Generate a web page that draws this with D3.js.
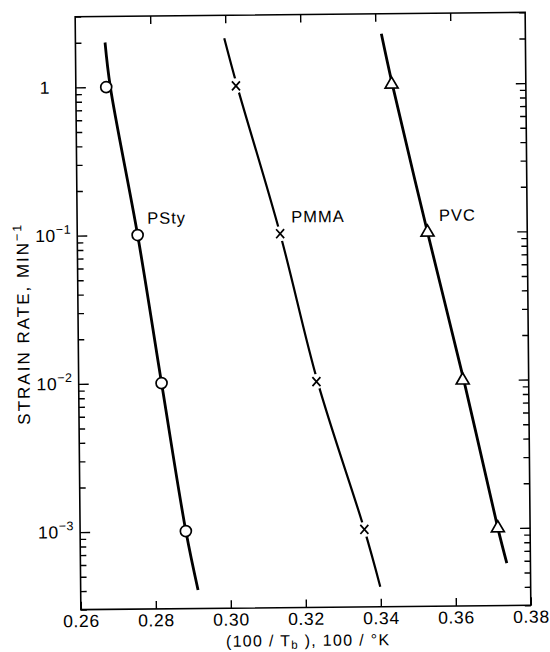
<!DOCTYPE html>
<html>
<head>
<meta charset="utf-8">
<script src="https://cdn.jsdelivr.net/npm/d3@7"></script>
<style>
  body { margin: 0; background: #fff; }
  svg { font-family: "Liberation Sans", Arial, sans-serif; }
  .axis text { font-size: 17.5px; fill: #000; letter-spacing: 0.6px; }
  .axis line { stroke: #000; stroke-width: 1.4; }
  .axis path { display: none; }
</style>
</head>
<body>
<div class="display"></div>
<script>
const WIDTH = 550;
const HEIGHT = 652;
const LEFT = 78, RIGHT = 528, TOP = 14.5, BOTTOM = 607.5;
const TILT = -0.55; // the scanned figure sits slightly askew

// axis ticks
const xTicks = [0.26, 0.28, 0.30, 0.32, 0.34, 0.36, 0.38];
const xTickLabels = ['0.26', '0.28', '0.30', '0.32', '0.34', '0.36', '0.38'];
const yMajor = [1, 0.1, 0.01, 0.001];
const yMajorBase = ['1', '10', '10', '10'];
const yMajorExp = ['', '\u22121', '\u22122', '\u22123'];

// measured points (strain rate vs 100/Tb)
const rates = [1, 0.1, 0.01, 0.001];
const pstyX = [0.2681, 0.2761, 0.2821, 0.2882];
const pmmaX = [0.3027, 0.3141, 0.3234, 0.3358];
const pvcX = [0.3442, 0.3534, 0.3624, 0.3714];

// drawn curves through the points
const pstyLineX = [0.2679, 0.2692, 0.2761, 0.2821, 0.2882, 0.2913];
const pstyLineY = [2, 1, 0.1, 0.01, 0.001, 0.0004];
const pmmaLineX = [0.2997, 0.3030, 0.3141, 0.3237, 0.3358, 0.3399];
const pmmaLineY = [2.1, 1, 0.1, 0.01, 0.001, 0.00041];
const pvcLineX = [0.3416, 0.3444, 0.3534, 0.3627, 0.3714, 0.3737];
const pvcLineY = [2.2, 1, 0.1, 0.01, 0.001, 0.00058];

// curve labels
const seriesNames = ['PSty', 'PMMA', 'PVC'];
const labelX = [0.2787, 0.3171, 0.3565];
const labelY = [0.119, 0.119, 0.119];

const svg = d3.select('.display')
  .append('svg')
  .attr('width', WIDTH)
  .attr('height', HEIGHT);

const chart = svg.append('g')
  .attr('transform', `rotate(${TILT},${(LEFT + RIGHT) / 2},311)`);

const x = d3.scaleLinear().domain([0.26, 0.38]).range([LEFT, RIGHT]);
const y = d3.scaleLog().domain([3e-4, 3]).range([BOTTOM, TOP]);

// minor ticks 2..9 in every decade
const yMinor = [];
for (let e = -4; e <= 0; e++) {
  for (let k = 2; k <= 9; k++) {
    const v = k * Math.pow(10, e);
    if (v >= 3e-4 * 0.999 && v <= 3 * 1.001) yMinor.push(v);
  }
}

// frame
chart.append('rect')
  .attr('x', LEFT).attr('y', TOP)
  .attr('width', RIGHT - LEFT).attr('height', BOTTOM - TOP)
  .attr('fill', 'none').attr('stroke', '#000').attr('stroke-width', 1.6);

// left + right ticks (pointing inward)
chart.append('g').attr('class', 'axis').attr('transform', `translate(${LEFT},0)`)
  .call(d3.axisLeft(y).tickValues(yMinor).tickSize(-6).tickFormat(''));
chart.append('g').attr('class', 'axis').attr('transform', `translate(${LEFT},0)`)
  .call(d3.axisLeft(y).tickValues(yMajor).tickSize(-10).tickFormat(''));
chart.append('g').attr('class', 'axis').attr('transform', `translate(${RIGHT},0)`)
  .call(d3.axisRight(y).tickValues(yMinor).tickSize(-6).tickFormat(''));
chart.append('g').attr('class', 'axis').attr('transform', `translate(${RIGHT},0)`)
  .call(d3.axisRight(y).tickValues(yMajor).tickSize(-10).tickFormat(''));

// bottom + top ticks
chart.append('g').attr('class', 'axis').attr('transform', `translate(0,${BOTTOM})`)
  .call(d3.axisBottom(x).tickValues(xTicks).tickSize(-8).tickPadding(5)
    .tickFormat((d, i) => xTickLabels[i]));
chart.append('g').attr('class', 'axis').attr('transform', `translate(0,${TOP})`)
  .call(d3.axisTop(x).tickValues(xTicks.slice(1, -1)).tickSize(-8).tickFormat(''));

// y labels with superscripts
const yLab = chart.append('g').attr('class', 'axis');
yMajor.forEach((v, i) => {
  const t = yLab.append('text')
    .attr('x', i === 0 ? 47 : 72)
    .attr('y', y(v) + 6)
    .attr('text-anchor', i === 0 ? 'middle' : 'end');
  t.append('tspan').text(yMajorBase[i]);
  if (yMajorExp[i]) {
    t.append('tspan').attr('dy', -8).attr('font-size', 12.5).text(yMajorExp[i]);
  }
});

// axis titles
const xt = chart.append('text')
  .attr('x', (LEFT + RIGHT) / 2 + 2).attr('y', 646)
  .attr('text-anchor', 'middle')
  .attr('font-size', 16).attr('letter-spacing', 1.3);
xt.append('tspan').text('(100 / T');
xt.append('tspan').attr('font-size', 11.5).attr('dy', 2.5).text('b');
xt.append('tspan').attr('dy', -2.5).text(' ), 100 / \u00B0K');

const yt = chart.append('text')
  .attr('transform', 'translate(29,321) rotate(-90)')
  .attr('text-anchor', 'middle')
  .attr('font-size', 17).attr('letter-spacing', 2);
yt.append('tspan').text('STRAIN RATE,  MIN');
yt.append('tspan').attr('font-size', 12.5).attr('dy', -7).text('\u22121');

// curves
const line = d3.line()
  .x(d => x(d[0]))
  .y(d => y(d[1]))
  .curve(d3.curveCatmullRom);

const curves = [
  { xs: pstyLineX, ys: pstyLineY, w: 2.8 },
  { xs: pmmaLineX, ys: pmmaLineY, w: 2.2 },
  { xs: pvcLineX, ys: pvcLineY, w: 2.8 }
];
chart.append('g').selectAll('path')
  .data(curves)
  .enter()
  .append('path')
  .attr('d', c => line(c.xs.map((v, i) => [v, c.ys[i]])))
  .attr('fill', 'none')
  .attr('stroke', '#000')
  .attr('stroke-width', c => c.w);

// PSty circles
chart.append('g').selectAll('circle')
  .data(pstyX.map((v, i) => [v, rates[i]]))
  .enter()
  .append('circle')
  .attr('cx', d => x(d[0]))
  .attr('cy', d => y(d[1]))
  .attr('r', 5.5)
  .attr('fill', '#fff')
  .attr('stroke', '#000')
  .attr('stroke-width', 1.7);

// PMMA crosses, with a white gap around them
const pmma = chart.append('g').selectAll('g')
  .data(pmmaX.map((v, i) => [v, rates[i]]))
  .enter()
  .append('g')
  .attr('transform', d => `translate(${x(d[0])},${y(d[1])})`);
pmma.append('circle').attr('r', 7.5).attr('fill', '#fff');
pmma.append('path')
  .attr('d', 'M-4,-4.5L4,4.5M-4,4.5L4,-4.5')
  .attr('stroke', '#000')
  .attr('stroke-width', 1.7);

// PVC triangles
chart.append('g').selectAll('path')
  .data(pvcX.map((v, i) => [v, rates[i]]))
  .enter()
  .append('path')
  .attr('transform', d => `translate(${x(d[0])},${y(d[1])})`)
  .attr('d', d3.symbol(d3.symbolTriangle, 72))
  .attr('fill', '#fff')
  .attr('stroke', '#000')
  .attr('stroke-width', 1.7);

// series labels
chart.append('g').selectAll('text')
  .data(seriesNames)
  .enter()
  .append('text')
  .attr('x', (d, i) => x(labelX[i]))
  .attr('y', (d, i) => y(labelY[i]))
  .attr('font-size', 16.5)
  .attr('letter-spacing', 1)
  .text(d => d);
</script>
</body>
</html>
